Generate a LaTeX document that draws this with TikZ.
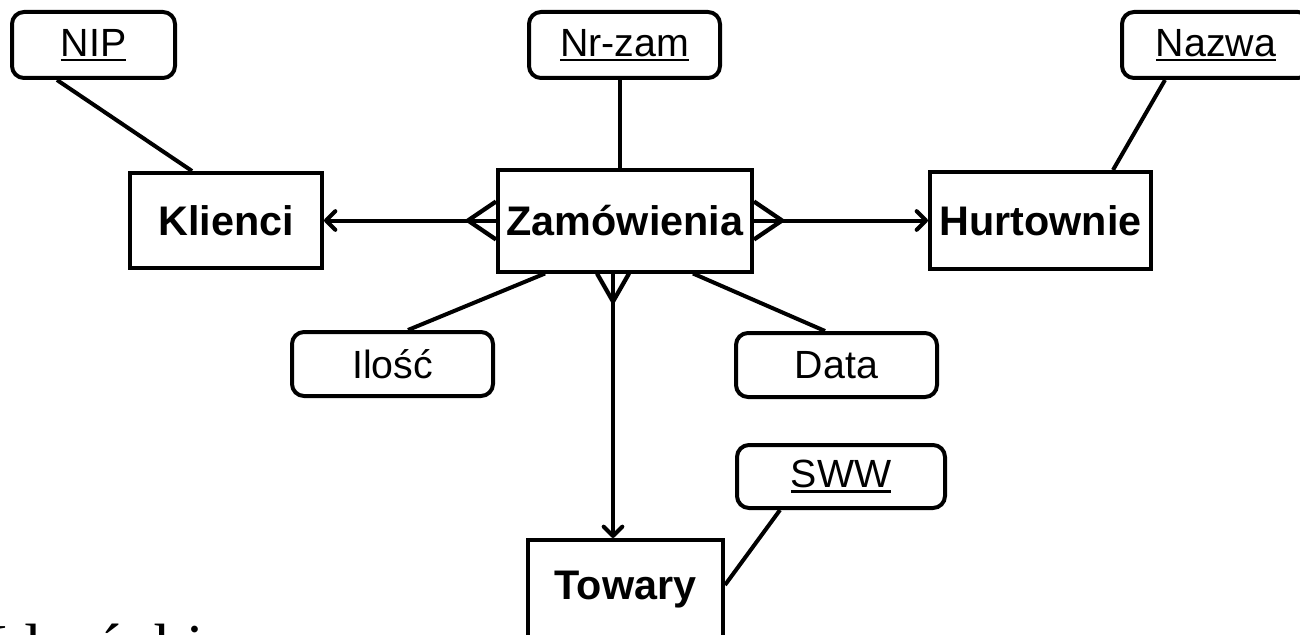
\documentclass[tikz,border=0pt]{standalone}
\usepackage{fontspec}
\setmainfont{Liberation Sans}
\newfontfamily\footserif{Liberation Serif}
\usetikzlibrary{arrows.meta,calc}
\newcommand\keyu[1]{\setbox0\hbox{#1}\rlap{\rule[-3.6pt]{\wd0}{1.8pt}}\box0}
\begin{document}
\begin{tikzpicture}[x=0.75pt,y=-0.75pt,line width=3pt,
  entity/.style={draw,rectangle,inner sep=0pt,font=\fontsize{31}{36}\selectfont\bfseries},
  attr/.style={draw,rounded corners=9pt,inner sep=0pt,font=\fontsize{29.5}{34}\selectfont},
  link/.style={line width=3pt},
  rel/.style={-{Straight Barb[length=7pt,width=14pt,line join=round,line cap=round]}},
  crow/.style={line width=3.2pt,line join=miter}]
\useasboundingbox (0,0) rectangle (1300,635);
% entities
\node[entity,minimum width=144pt,minimum height=71.25pt] (klienci) at (226,220.5) {Klienci};
\node[entity,minimum width=190.5pt,minimum height=76.5pt] (zam) at (625,220.5) {Zamówienia};
\node[entity,minimum width=165.75pt,minimum height=72.75pt] (hurt) at (1040.5,220.5) {Hurtownie};
\node[entity,minimum width=146.25pt,minimum height=75pt] (towary) at (625.5,590) {Towary};
% attributes
\node[attr,minimum width=122.25pt,minimum height=49.5pt] (nip) at (93.5,45) {\keyu{NIP}};
\node[attr,minimum width=143.25pt,minimum height=49.5pt] (nrzam) at (624.5,45) {\keyu{Nr-zam}};
\node[attr,minimum width=141pt,minimum height=49.5pt] (nazwa) at (1216,45) {\keyu{Nazwa}};
\node[attr,minimum width=150.75pt,minimum height=48pt] (ilosc) at (392.5,364) {Ilość};
\node[attr,minimum width=150.75pt,minimum height=48pt] (data) at (836.5,365) {Data};
\node[attr,minimum width=156pt,minimum height=47.25pt] (sww) at (841,476.5) {\keyu{SWW}};
% attribute links
\draw[link] ($(nip.south)+(-36.5,0)$) -- ($(klienci.north)+(-34,0)$);
\draw[link] ($(nrzam.south)+(-4.5,0)$) -- ($(zam.north)+(-5,0)$);
\draw[link] ($(nazwa.south)+(-51,0)$) -- ($(hurt.north)+(72.5,0)$);
\draw[link] ($(zam.south)+(-80,0)$) -- ($(ilosc.north)+(15.5,0)$);
\draw[link] ($(zam.south)+(68,0)$) -- ($(data.north)+(-11.5,0)$);
\draw[link] ($(sww.south)+(-61,0)$) -- ($(towary.east)+(0,-5)$);
% relationships
\draw[link,rel] (zam.west) -- (klienci.east);
\draw[crow] ($(zam.west)+(0,-19)$) -- ($(zam.west)+(-28,0)$) -- ($(zam.west)+(0,19)$);
\draw[link,rel] (zam.east) -- (hurt.west);
\draw[crow] ($(zam.east)+(0,-19)$) -- ($(zam.east)+(28,0)$) -- ($(zam.east)+(0,19)$);
\draw[link,rel] ($(zam.south)+(-12,0)$) -- ($(towary.north)+(-12.5,0)$);
\draw[crow] ($(zam.south)+(-28,0)$) -- ($(zam.south)+(-12,28)$) -- ($(zam.south)+(4,0)$);
% cut-off footer text
\node[anchor=base west,inner sep=0pt,font=\footserif\fontsize{48}{52}\selectfont] (foot) at (-15,668) {Idoróchi};
\end{tikzpicture}
\end{document}
